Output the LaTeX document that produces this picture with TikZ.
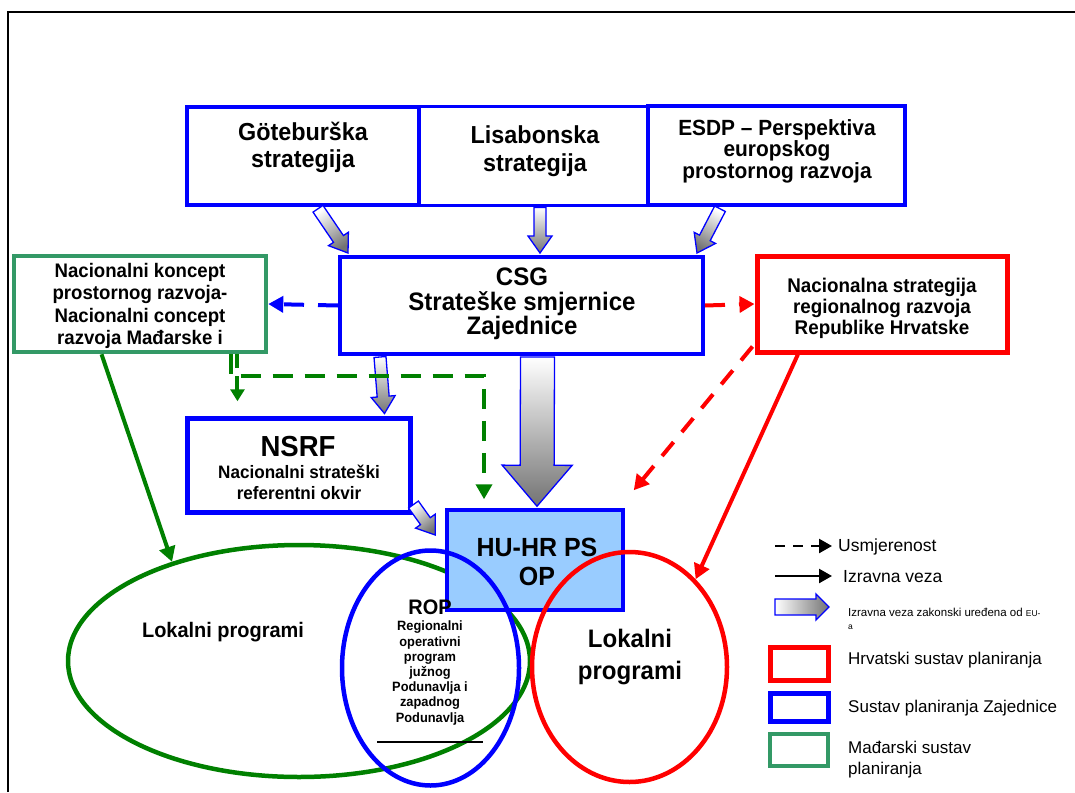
\documentclass[tikz,border=0pt]{standalone}
\usepackage{fontspec}
\setmainfont{Liberation Sans}[BoldFeatures={FakeStretch=0.95}]
\usetikzlibrary{arrows.meta,calc,shapes.geometric}

\definecolor{cblue}{RGB}{0,0,255}
\definecolor{cred}{RGB}{255,0,0}
\definecolor{cgreen}{RGB}{0,128,0}
\definecolor{hugreen}{RGB}{51,153,102}
\definecolor{opfill}{RGB}{153,204,255}
\definecolor{arrowgray}{RGB}{115,115,115}

% Shaded block arrow: tail, tip, shaft half-width, head half-width, head length, shading angle
\newcommand{\blockarrow}[6]{%
  \coordinate (ba-p) at ($(#2)!#5!(#1)$);
  \path[draw=cblue, line width=1.3pt, line join=miter,
        top color=white, bottom color=arrowgray, shading angle=#6]
    ($(#1)!#3!90:(#2)$) -- ($(ba-p)!#3!90:(#2)$) -- ($(ba-p)!#4!90:(#2)$)
    -- (#2) -- ($(ba-p)!#4!-90:(#2)$) -- ($(ba-p)!#3!-90:(#2)$)
    -- ($(#1)!#3!-90:(#2)$) -- cycle;
}

\tikzset{
  box/.style={draw, fill=white, inner sep=0pt},
  txt/.style={align=center, inner sep=0pt, font=\bfseries},
  legtxt/.style={anchor=west, align=left, inner sep=0pt},
  tip/.style={-{Triangle[length=15pt,width=16pt]}},
  smalltip/.style={-{Triangle[length=12pt,width=14pt]}},
}

\begin{document}
\begin{tikzpicture}[x=1pt, y=-1pt]
\useasboundingbox (0,0) rectangle (1075,792);
\fill[white] (0,0) rectangle (1075,792);

% outer frame
\draw[line width=2pt] (8,792) -- (8,12) -- (1075,12);

% strategy boxes
\node[box, draw=cblue, line width=3.5pt, minimum width=232pt, minimum height=98pt] (goet) at (303,156) {};
\node[box, draw=cblue, line width=3pt, minimum width=229pt, minimum height=99pt] (lisa) at (533.5,155.5) {};
\node[box, draw=cblue, line width=3.5pt, minimum width=257pt, minimum height=99pt] (esdp) at (776.5,155.5) {};
\node[txt, font=\fontsize{24.6}{27}\selectfont\bfseries] (goet-t) at (303,147) {Göteburška\\strategija};
\node[txt, font=\fontsize{24.6}{28}\selectfont\bfseries] (lisa-t) at (535,151) {Lisabonska\\strategija};
\node[txt, font=\fontsize{22}{21.5}\selectfont\bfseries] (esdp-t) at (777,151) {ESDP – Perspektiva\\europskog\\prostornog razvoja};

% CSG
\node[box, draw=cblue, line width=4pt, minimum width=363pt, minimum height=97pt] (csg) at (521.5,305.5) {};
\node[txt, font=\fontsize{25.3}{24.5}\selectfont\bfseries] (csg-t) at (522,304) {CSG\\Strateške smjernice\\Zajednice};

% national boxes
\node[box, draw=hugreen, line width=4.5pt, minimum width=252pt, minimum height=96pt] (hun) at (140,304) {};
\node[txt, font=\fontsize{19.6}{22.3}\selectfont\bfseries] (hun-t) at (140,306) {Nacionalni koncept\\prostornog razvoja-\\Nacionalni concept\\razvoja Mađarske i};
\node[box, draw=cred, line width=5pt, minimum width=250pt, minimum height=96pt] (cro) at (882,304) {};
\node[txt, font=\fontsize{19.8}{21}\selectfont\bfseries] (cro-t) at (882,308) {Nacionalna strategija\\regionalnog razvoja\\Republike Hrvatske};

% NSRF
\node[box, draw=cblue, line width=5pt, minimum width=223pt, minimum height=94pt] (nsrf) at (298.5,465) {};
\node[txt, font=\fontsize{29}{30}\selectfont\bfseries] (nsrf-t1) at (298,447) {NSRF};
\node[txt, font=\fontsize{18}{21}\selectfont\bfseries] (nsrf-t2) at (299,482) {Nacionalni strateški\\referentni okvir};

% programme areas
\node[ellipse, draw=cgreen, line width=4.5pt, minimum width=462pt, minimum height=232pt, inner sep=0pt] (lokg) at (299,661) {};
\node[box, draw=cblue, fill=opfill, line width=3.5pt, minimum width=176pt, minimum height=100pt] (op) at (535,560) {};
\node[ellipse, draw=cblue, line width=4.5pt, minimum width=177pt, minimum height=235pt, inner sep=0pt] (rop) at (430.5,668) {};
\node[ellipse, draw=cred, line width=4.5pt, minimum width=195pt, minimum height=230pt, inner sep=0pt] (lokr) at (629.5,667) {};
\draw[line width=1.5pt] (377,742) -- (483,742);

\node[txt, font=\fontsize{26.3}{29}\selectfont\bfseries] (op-t) at (537,562) {HU-HR PS\\OP};
\node[txt, font=\fontsize{21}{24}\selectfont\bfseries] (rop-t1) at (430,607) {ROP};
\node[txt, font=\fontsize{13.5}{15.2}\selectfont\bfseries] (rop-t2) at (430,673) {Regionalni\\operativni\\program\\južnog\\Podunavlja i\\zapadnog\\Podunavlja};
\node[txt, font=\fontsize{21}{24}\selectfont\bfseries] (lokg-t) at (223,632) {Lokalni programi};
\node[txt, font=\fontsize{25.3}{32}\selectfont\bfseries] (lokr-t) at (630,657) {Lokalni\\programi};

% statutory links (shaded block arrows)
\blockarrow{$(goet.south)+(15,2)$}{$(csg.north west)+(10,-2)$}{6pt}{12pt}{17pt}{35}
\blockarrow{$(lisa.south)+(6.5,1)$}{$(csg.north)+(18.5,-2)$}{6pt}{12pt}{17pt}{0}
\blockarrow{$(esdp.south)+(-56.5,2)$}{$(csg.north east)+(-8,-2)$}{6pt}{12pt}{17pt}{-28}
\blockarrow{$(csg.south west)+(42,1)$}{$(nsrf.north east)+(-28,-2)$}{6pt}{12pt}{17pt}{0}
\blockarrow{$(csg.south)+(16,1)$}{$(op.north)+(2,-2)$}{17pt}{35pt}{41pt}{0}
\blockarrow{$(nsrf.south east)+(1,-10)$}{$(op.west)+(-10,-25)$}{6pt}{12pt}{17pt}{38}

% orientation links (dashed)
\draw[cblue, line width=4pt, dash pattern=on 20pt off 14pt, tip] (csg.west) -- (hun.east);
\draw[cred, line width=4pt, dash pattern=on 20pt off 14pt, tip] (csg.east) -- (cro.west);
\coordinate (redend) at ($(op.north east)+(9,-18)$);
\draw[cred, line width=4pt, dash pattern=on 18pt off 13pt, tip] ($(cro.south west)+(-2,-8)$) -- (redend);
\draw[cgreen, line width=4pt, dash pattern=on 20pt off 12pt, tip]
  ($(hun.south west)!0.853!(hun.south east)$) |- ($(op.north west)!0.216!(op.north east)+(0,-132)$)
  -- ($(op.north west)!0.216!(op.north east)+(0,-9)$);
\coordinate (greenend) at ($(hun.south west)!0.88!(hun.south east)+(0,47)$);
\draw[cgreen, line width=4pt, dash pattern=on 14pt off 8pt, smalltip]
  ($(hun.south west)!0.88!(hun.south east)$) -- (greenend);

% direct links
\draw[cgreen, line width=4pt, tip] ($(hun.south west)!0.35!(hun.south east)$) -- (lokg.142);
\draw[cred, line width=4pt, tip] ($(cro.south west)!0.17!(cro.south east)$) -- (lokr.53);

% key
\coordinate (k1a) at (775,546); \coordinate (k1b) at (832,546);
\draw[line width=2.5pt, dash pattern=on 10pt off 8pt, -{Triangle[length=13pt,width=14pt]}] (k1a) -- (k1b);
\node[legtxt, font=\fontsize{17.5}{20}\selectfont] (k1-t) at (838,547) {Usmjerenost};
\coordinate (k2a) at (775,576); \coordinate (k2b) at (832,576);
\draw[line width=2.5pt, -{Triangle[length=13pt,width=14pt]}] (k2a) -- (k2b);
\node[legtxt, font=\fontsize{17.5}{20}\selectfont] (k2-t) at (843,577) {Izravna veza};
\coordinate (k3a) at (775,607); \coordinate (k3b) at (829,607);
\blockarrow{k3a}{k3b}{8pt}{13pt}{13pt}{90}
\node[legtxt, font=\fontsize{11.5}{13}\selectfont] (k3-t) at (848,619) {Izravna veza zakonski uređena od {\fontsize{8.5}{10}\selectfont EU-}\\{\fontsize{8.5}{10}\selectfont a}};
\node[box, draw=cred, line width=5pt, minimum width=58pt, minimum height=33pt] (k4) at (799,663.5) {};
\node[legtxt, font=\fontsize{17}{20}\selectfont] (k4-t) at (848,660) {Hrvatski sustav planiranja};
\node[box, draw=cblue, line width=5pt, minimum width=58pt, minimum height=28pt] (k5) at (799,707) {};
\node[legtxt, font=\fontsize{17}{20}\selectfont] (k5-t) at (848,708) {Sustav planiranja Zajednice};
\node[box, draw=hugreen, line width=4.5pt, minimum width=58pt, minimum height=32pt] (k6) at (799,750) {};
\node[legtxt, font=\fontsize{17}{21}\selectfont] (k6-t) at (848,760) {Mađarski sustav\\planiranja};
\end{tikzpicture}
\end{document}
